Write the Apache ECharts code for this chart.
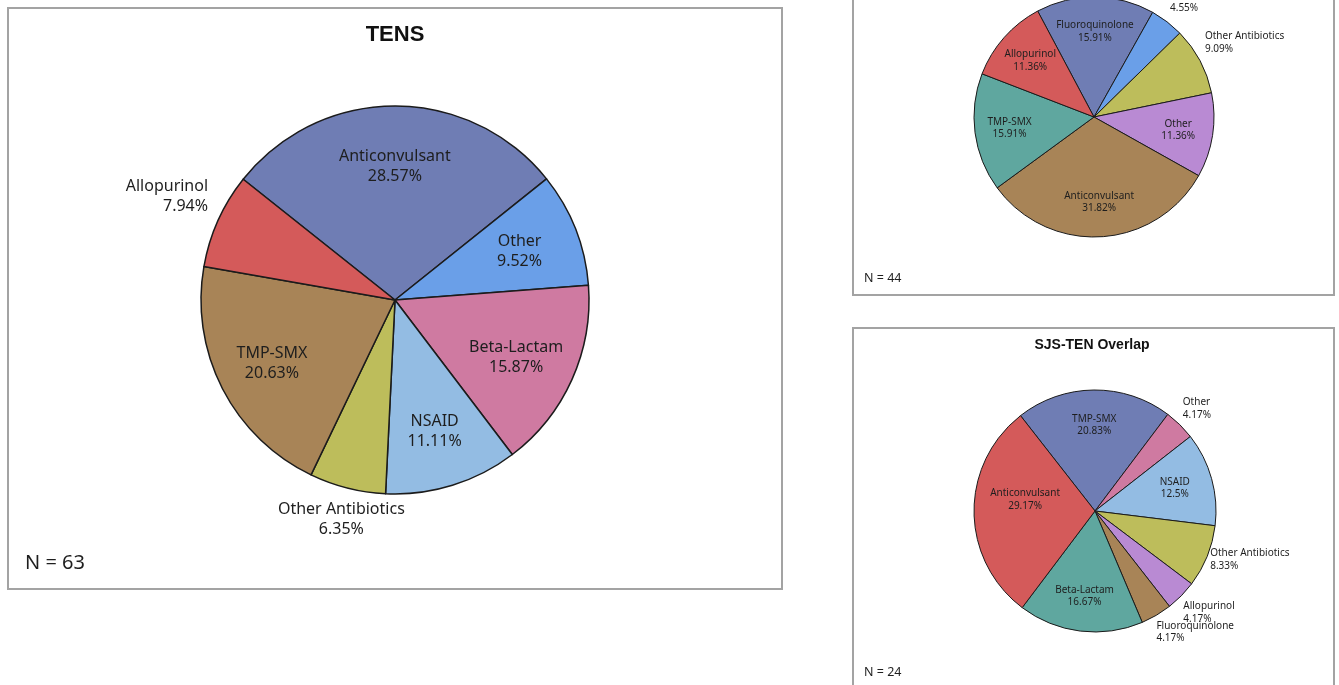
<!DOCTYPE html>
<html>
<head>
<meta charset="utf-8">
<script src="https://cdn.jsdelivr.net/npm/echarts@6/dist/echarts.min.js"></script>
<style>
  html, body { margin: 0; padding: 0; background: #ffffff; }
  #chart { width: 1339px; height: 685px; }
</style>
</head>
<body>
<div id="chart"></div>
<script>
// Culprit drug classes, counts of cases per group (listed clockwise)
const tensCategories = ['Anticonvulsant', 'Other', 'Beta-Lactam', 'NSAID', 'Other Antibiotics', 'TMP-SMX', 'Allopurinol'];
const tensCounts = [18, 6, 10, 7, 4, 13, 5];

const sjsCategories = ['Fluoroquinolone', 'NSAID', 'Other Antibiotics', 'Other', 'Anticonvulsant', 'TMP-SMX', 'Allopurinol'];
const sjsCounts = [7, 2, 4, 5, 14, 7, 5];

const overlapCategories = ['TMP-SMX', 'Other', 'NSAID', 'Other Antibiotics', 'Allopurinol', 'Fluoroquinolone', 'Beta-Lactam', 'Anticonvulsant'];
const overlapCounts = [5, 1, 3, 2, 1, 1, 4, 7];

// Slice fills
const BLUEGRAY = '#6F7DB4', RED = '#D45A5A', BROWN = '#A88457', OLIVE = '#BDBD5B',
      LIGHTBLUE = '#93BCE3', PINK = '#CF7AA1', BRIGHTBLUE = '#6A9FE8', TEAL = '#5FA79F', PURPLE = '#B98AD3';
const tensColors = [BLUEGRAY, BRIGHTBLUE, PINK, LIGHTBLUE, OLIVE, BROWN, RED];
const sjsColors = [BLUEGRAY, BRIGHTBLUE, OLIVE, PURPLE, BROWN, TEAL, RED];
const overlapColors = [BLUEGRAY, PINK, LIGHTBLUE, OLIVE, PURPLE, BROWN, TEAL, RED];

const FONT = 'Noto Sans';
const TITLE_FONT = '"Liberation Sans", Arial, sans-serif';
const TEXT = '#1e1e1e';

const sum = arr => arr.reduce((a, b) => a + b, 0);

// Mid angle (degrees, counter-clockwise from 3 o'clock) of each clockwise slice
function midAngles(values, startAngle) {
  const total = sum(values);
  let a = startAngle;
  return values.map(v => {
    const span = v / total * 360;
    const m = a - span / 2;
    a -= span;
    return m;
  });
}

function pctText(v, total) {
  return +(v / total * 100).toFixed(2) + '%';
}

function buildPie(p) {
  const total = sum(p.values);
  const mids = midAngles(p.values, p.startAngle);
  return {
    type: 'pie',
    center: p.center,
    radius: p.radius,
    startAngle: p.startAngle,
    clockwise: true,
    avoidLabelOverlap: false,
    animation: false,
    data: p.names.map((n, i) => ({ name: n, value: p.values[i], itemStyle: { color: p.colors[i] } })),
    itemStyle: { borderColor: '#1b1b1b', borderWidth: p.border },
    label: {
      show: true,
      position: 'inside',
      color: TEXT,
      fontFamily: FONT,
      fontSize: p.fontSize,
      lineHeight: p.lineHeight,
      formatter: prm => prm.name + '\n' + pctText(prm.value, total)
    },
    labelLine: { show: false },
    emphasis: { disabled: true },
    labelLayout: prm => {
      const i = prm.dataIndex;
      const rad = mids[i] * Math.PI / 180;
      const c = Math.cos(rad), s = Math.sin(rad);
      const out = (p.outside || {})[p.names[i]];
      if (!out) {
        const shift = (p.insideShift || {})[p.names[i]] || { dx: 0, dy: 0 };
        return {
          x: p.center[0] + p.inner * p.radius * c + shift.dx,
          y: p.center[1] - p.inner * p.radius * s + shift.dy,
          align: 'center', verticalAlign: 'middle'
        };
      }
      return {
        x: p.center[0] + p.radius * c + out.dx,
        y: p.center[1] - p.radius * s + out.dy,
        align: out.align, verticalAlign: 'middle'
      };
    }
  };
}

const series = [
  buildPie({
    names: tensCategories, values: tensCounts, colors: tensColors,
    center: [395, 300], radius: 194, startAngle: 141.5, inner: 0.69,
    border: 1.5, fontSize: 16, lineHeight: 20,
    insideShift: {
      'Beta-Lactam': { dx: -1, dy: 3 },
      'NSAID': { dx: 0, dy: 4 },
      'TMP-SMX': { dx: -4, dy: 2 }
    },
    outside: {
      'Allopurinol': { dx: -10, dy: -24, align: 'right' },
      'Other Antibiotics': { dx: -6, dy: 31, align: 'center' }
    }
  }),
  buildPie({
    names: sjsCategories, values: sjsCounts, colors: sjsColors,
    center: [1094, 117], radius: 120, startAngle: 118, inner: 0.71,
    border: 1, fontSize: 10, lineHeight: 12.7,
    outside: {
      'NSAID': { dx: 3, dy: -20, align: 'left' },
      'Other Antibiotics': { dx: 5, dy: -18, align: 'left' }
    }
  }),
  buildPie({
    names: overlapCategories, values: overlapCounts, colors: overlapColors,
    center: [1095, 511], radius: 121, startAngle: 128, inner: 0.71,
    border: 1, fontSize: 10, lineHeight: 12.7,
    insideShift: {
      'Anticonvulsant': { dx: 16, dy: -12 },
      'NSAID': { dx: -3, dy: 0 }
    },
    outside: {
      'Other': { dx: 3, dy: -16, align: 'left' },
      'Other Antibiotics': { dx: 3, dy: 3, align: 'left' },
      'Allopurinol': { dx: 2, dy: 17, align: 'left' },
      'Fluoroquinolone': { dx: 0, dy: 17, align: 'left' }
    }
  })
];

function panel(x, y, w, h) {
  return {
    type: 'rect', silent: true,
    shape: { x: x, y: y, width: w, height: h },
    style: { fill: 'none', stroke: '#a3a3a3', lineWidth: 2 }
  };
}

function text(str, x, y, size, opts) {
  return {
    type: 'text', silent: true, x: x, y: y,
    style: Object.assign({
      text: str, fontSize: size, fontFamily: FONT, fill: TEXT,
      align: 'left', verticalAlign: 'middle'
    }, opts || {})
  };
}

const chart = echarts.init(document.getElementById('chart'), null, { renderer: 'canvas' });
chart.setOption({
  backgroundColor: '#ffffff',
  animation: false,
  graphic: [
    panel(8, 8, 774, 581),
    panel(853, -66, 481, 361),
    panel(853, 328, 481, 361),
    text('TENS', 395, 35, 22, { align: 'center', fontFamily: TITLE_FONT, fontWeight: 'bold', fill: '#111' }),
    text('SJS-TEN Overlap', 1092, 345, 14, { align: 'center', fontFamily: TITLE_FONT, fontWeight: 'bold', fill: '#111' }),
    text('N = ' + sum(tensCounts), 25, 563, 20),
    text('N = ' + sum(sjsCounts), 864, 278, 12.5),
    text('N = ' + sum(overlapCounts), 864, 672, 12.5)
  ],
  series: series
});
</script>
</body>
</html>
